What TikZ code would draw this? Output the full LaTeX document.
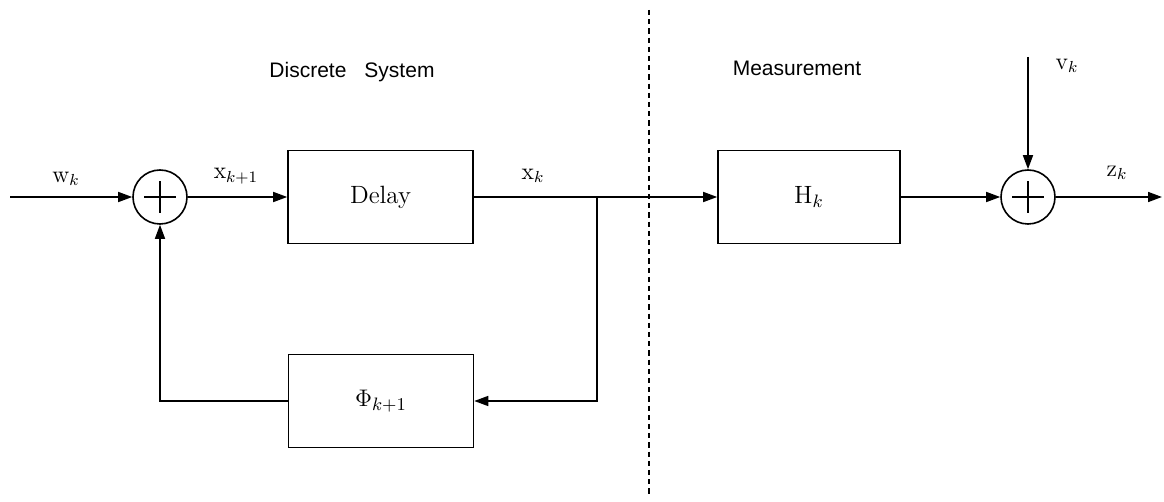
\documentclass[tikz,border=0pt]{standalone}
\usepackage{fontspec}
\newfontfamily\labelfont{Liberation Sans}
\usetikzlibrary{arrows.meta}
\begin{document}
\begin{tikzpicture}[x=0.5pt,y=-0.5pt,
  line width=0.8pt,
  sig/.style={-{Triangle[length=7pt,width=5pt]}},
  blockbox/.style={draw, minimum width=92.5pt, minimum height=46.5pt, inner sep=0pt,
    font=\fontsize{12.5}{14}\selectfont},
  sumnode/.style={draw, circle, minimum size=27pt, inner sep=0pt,
    path picture={
      \draw ([xshift=-7.8pt]path picture bounding box.center) -- ([xshift=7.8pt]path picture bounding box.center);
      \draw ([yshift=-7.8pt]path picture bounding box.center) -- ([yshift=7.8pt]path picture bounding box.center);
    }},
  siglabel/.style={font=\fontsize{12}{14}\selectfont},
  regionlabel/.style={font=\labelfont\fontsize{10.5}{12}\selectfont},
  divider/.style={line width=0.7pt, dash pattern=on 2.6pt off 2pt},
]
\useasboundingbox (0,0) rectangle (1164,502);

% blocks and summing junctions
\node[sumnode]  (s1)    at (160,197) {};
\node[blockbox] (delay) at (380.5,197) {Delay};
\node[blockbox] (phi)   at (381,401) {$\Phi_{k+1}$};
\node[blockbox, minimum width=91pt] (hk) at (809,197) {$\mathrm{H}_k$};
\node[sumnode]  (s2)    at (1028,197) {};

% free ends and corners
\coordinate (in)     at (10,197);
\coordinate (branch) at (597,197);
\coordinate (fbR)    at (597,401);
\coordinate (fbL)    at (160,401);
\coordinate (vtop)   at (1028,57);
\coordinate (out)    at (1162,197);
\coordinate (dtop)   at (649,10);
\coordinate (dbot)   at (649,497);

% signal paths
\draw[sig] (in) -- (s1);
\draw[sig] (s1) -- (delay);
\draw (delay) -- (branch);
\draw[sig] (branch) -- (hk);
\draw[sig] (branch) -- (fbR) -- (phi);
\draw[sig] (phi) -- (fbL) -- (s1);
\draw[sig] (hk) -- (s2);
\draw[sig] (vtop) -- (s2);
\draw[sig] (s2) -- (out);

% boundary between system and measurement
\draw[divider] (dtop) -- (dbot);

% signal names
\node[siglabel] (lw)  at (66,179)   {$\mathrm{w}_k$};
\node[siglabel] (lx1) at (236,176)  {$\mathrm{x}_{k+1}$};
\node[siglabel] (lx)  at (533,176)  {$\mathrm{x}_k$};
\node[siglabel] (lv)  at (1067,66)  {$\mathrm{v}_k$};
\node[siglabel] (lz)  at (1117,173) {$\mathrm{z}_k$};

% region titles
\node[regionlabel] (tsys)  at (352,72) {Discrete\hspace{9pt}System};
\node[regionlabel] (tmeas) at (797,68) {Measurement};
\end{tikzpicture}
\end{document}
